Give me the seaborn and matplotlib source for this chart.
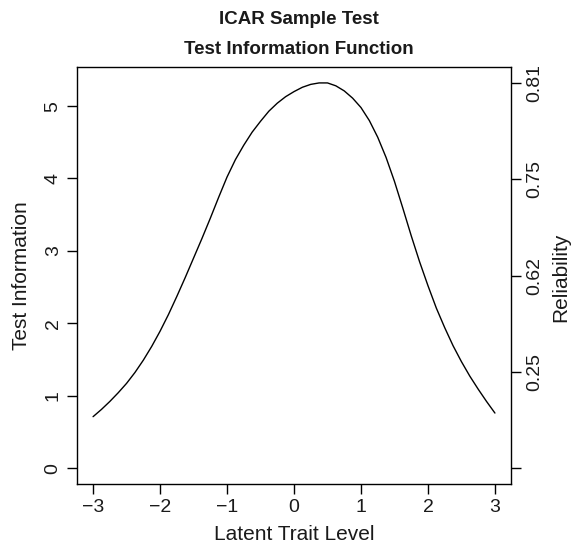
import numpy as np
import pandas as pd
import matplotlib
matplotlib.use("Agg")
import matplotlib.pyplot as plt
import seaborn as sns

# Data
theta = [-3.0, -2.875, -2.75, -2.625, -2.5, -2.375, -2.25, -2.125, -2.0, -1.875,
         -1.75, -1.625, -1.5, -1.375, -1.25, -1.125, -1.0, -0.875, -0.75, -0.625,
         -0.5, -0.375, -0.25, -0.125, 0.0, 0.125, 0.25, 0.375, 0.5, 0.625,
         0.75, 0.875, 1.0, 1.125, 1.25, 1.375, 1.5, 1.625, 1.75, 1.875,
         2.0, 2.125, 2.25, 2.375, 2.5, 2.625, 2.75, 2.875, 3.0]
information = [0.71, 0.81, 0.92, 1.04, 1.17, 1.32, 1.49, 1.68, 1.89, 2.12,
               2.37, 2.63, 2.90, 3.17, 3.45, 3.74, 4.02, 4.26, 4.46, 4.64,
               4.79, 4.93, 5.04, 5.13, 5.20, 5.26, 5.30, 5.32, 5.32, 5.28,
               5.21, 5.11, 4.98, 4.80, 4.57, 4.29, 3.96, 3.59, 3.21, 2.85,
               2.52, 2.21, 1.94, 1.69, 1.47, 1.27, 1.09, 0.92, 0.76]
x_ticks = [-3, -2, -1, 0, 1, 2, 3]
y_ticks = [0, 1, 2, 3, 4, 5]
rel_tick_pos = [0.0, 1.33, 2.66, 3.99, 5.32]
rel_tick_labels = ["", "0.25", "0.62", "0.75", "0.81"]

sns.set_theme(style="white")
plt.rcParams['font.family'] = ['Liberation Sans', 'DejaVu Sans']

df = pd.DataFrame({"theta": theta, "info": information})

fig = plt.figure(figsize=(5.71, 5.45), dpi=100)
ax = fig.add_axes([77/571, 1-484/545, (511-77)/571, (484-67)/545])
sns.lineplot(data=df, x="theta", y="info", ax=ax, color="black", linewidth=1.0)

ax.set_xlim(-3.24, 3.24)
ax.set_ylim(-0.22, 5.54)
for s in ax.spines.values():
    s.set_color("black")
    s.set_linewidth(1.0)
    s.set_visible(True)

ax.set_xticks(x_ticks)
ax.set_xticklabels([str(v).replace("-", "\u2212") for v in x_ticks])
ax.set_yticks(y_ticks)
ax.set_yticklabels([str(v) for v in y_ticks], rotation=90, va="center")
ax.tick_params(axis="both", which="major", direction="out", length=7, width=1,
               color="black", labelsize=14, labelcolor="#1a1a1a", pad=4,
               bottom=True, left=True)
ax.set_xlabel("Latent Trait Level", fontsize=15, color="#1a1a1a", labelpad=6)
ax.set_ylabel("Test Information", fontsize=15, color="#1a1a1a", labelpad=10)

ax2 = ax.twinx()
ax2.set_ylim(ax.get_ylim())
ax2.set_yticks(rel_tick_pos)
ax2.set_yticklabels(rel_tick_labels, rotation=90, va="center")
ax2.tick_params(axis="y", direction="out", length=7, width=1, color="black",
                labelsize=14, labelcolor="#1a1a1a", pad=4, right=True)
ax2.set_ylabel("")
ax2.grid(False)
for s in ax2.spines.values():
    s.set_visible(False)

fig.text(561/571, 1-277/545, "Reliability", rotation=90, ha="center", va="center",
         fontsize=15, color="#1a1a1a")

fig.text(299/571, 1-20/545, "ICAR Sample Test", ha="center", va="center",
         fontsize=13.5, fontweight="bold", color="#1a1a1a")
fig.text(299/571, 1-49/545, "Test Information Function", ha="center", va="center",
         fontsize=13.5, fontweight="bold", color="#1a1a1a")

fig.savefig("out.png", dpi=100)
